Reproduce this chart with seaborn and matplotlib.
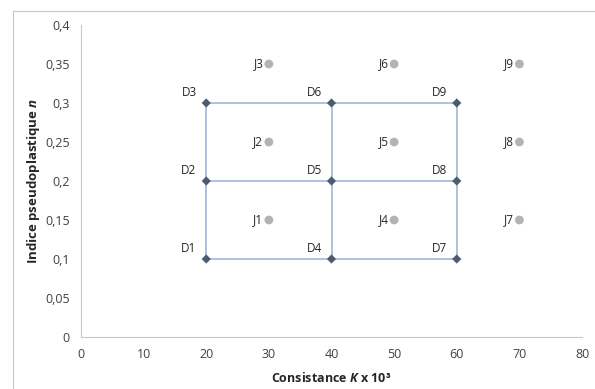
import matplotlib
matplotlib.use("Agg")
import matplotlib.pyplot as plt
import seaborn as sns
import pandas as pd
from matplotlib.patches import Rectangle

sns.set_style("white")
plt.rcParams['font.family'] = ['Open Sans', 'DejaVu Sans']
plt.rcParams['mathtext.fontset'] = 'custom'
plt.rcParams['mathtext.it'] = 'Open Sans:italic:bold'
plt.rcParams['mathtext.rm'] = 'Open Sans:bold'

# Data
d_labels = ["D1", "D2", "D3", "D4", "D5", "D6", "D7", "D8", "D9"]
d_k = [20, 20, 20, 40, 40, 40, 60, 60, 60]
d_n = [0.1, 0.2, 0.3, 0.1, 0.2, 0.3, 0.1, 0.2, 0.3]
j_labels = ["J1", "J2", "J3", "J4", "J5", "J6", "J7", "J8", "J9"]
j_k = [30, 30, 30, 50, 50, 50, 70, 70, 70]
j_n = [0.15, 0.25, 0.35, 0.15, 0.25, 0.35, 0.15, 0.25, 0.35]
x_ticks = [0, 10, 20, 30, 40, 50, 60, 70, 80]
y_ticks = [0, 0.05, 0.1, 0.15, 0.2, 0.25, 0.3, 0.35, 0.4]
y_ticklabels = ["0", "0,05", "0,1", "0,15", "0,2", "0,25", "0,3", "0,35", "0,4"]

df_d = pd.DataFrame({"K": d_k, "n": d_n, "label": d_labels})
df_j = pd.DataFrame({"K": j_k, "n": j_n, "label": j_labels})

fig = plt.figure(figsize=(5.95, 3.89), dpi=100)
ax = fig.add_axes([81/595, 1-337/389, (582-81)/595, (337-25)/389])

line_col = "#9db7db"
# grid lines connecting D points
for kv in sorted(set(d_k)):
    sub = df_d[df_d.K == kv].sort_values("n")
    ax.plot(sub.K, sub.n, color=line_col, lw=1.2, zorder=1)
for nv in sorted(set(d_n)):
    sub = df_d[df_d.n == nv].sort_values("K")
    ax.plot(sub.K, sub.n, color=line_col, lw=1.2, zorder=1)

sns.scatterplot(data=df_d, x="K", y="n", marker="D", s=22, color="#4d5b6e",
                edgecolor="none", ax=ax, zorder=3)
sns.scatterplot(data=df_j, x="K", y="n", marker="o", s=40, color="#b3b3b3",
                edgecolor="none", ax=ax, zorder=3)

txt_col = "#262626"
for _, r in df_d.iterrows():
    ax.annotate(r.label, (r.K, r.n), xytext=(-7, 3), textcoords="offset points",
                ha="right", va="bottom", fontsize=8.5, color=txt_col)
for _, r in df_j.iterrows():
    ax.annotate(r.label, (r.K, r.n), xytext=(-4, 0), textcoords="offset points",
                ha="right", va="center", fontsize=8.5, color=txt_col)

ax.set_xlim(0, 80)
ax.set_ylim(0, 0.4)
ax.set_xticks(x_ticks)
ax.set_yticks(y_ticks)
ax.set_yticklabels(y_ticklabels)
ax.tick_params(axis="both", labelsize=9, colors="#404040", length=3,
               width=0.8, direction="out", pad=5)
ax.tick_params(axis="both", color="#c8c8c8")
for s in ["top", "right"]:
    ax.spines[s].set_visible(False)
for s in ["left", "bottom"]:
    ax.spines[s].set_color("#c8c8c8")
    ax.spines[s].set_linewidth(0.8)

ax.set_xlabel("Consistance $K$ x 10³", fontsize=9, fontweight="bold", color="#262626", labelpad=7)
ax.set_ylabel("Indice pseudoplastique $n$", fontsize=9.5, fontweight="bold", color="#262626", labelpad=2)

fig.patches.append(Rectangle((13/595, -0.01), 1.0, 1 - 11/389 + 0.01, transform=fig.transFigure,
                             fill=False, edgecolor="#c8c8c8", lw=0.8))

fig.savefig("out.png", dpi=100)
